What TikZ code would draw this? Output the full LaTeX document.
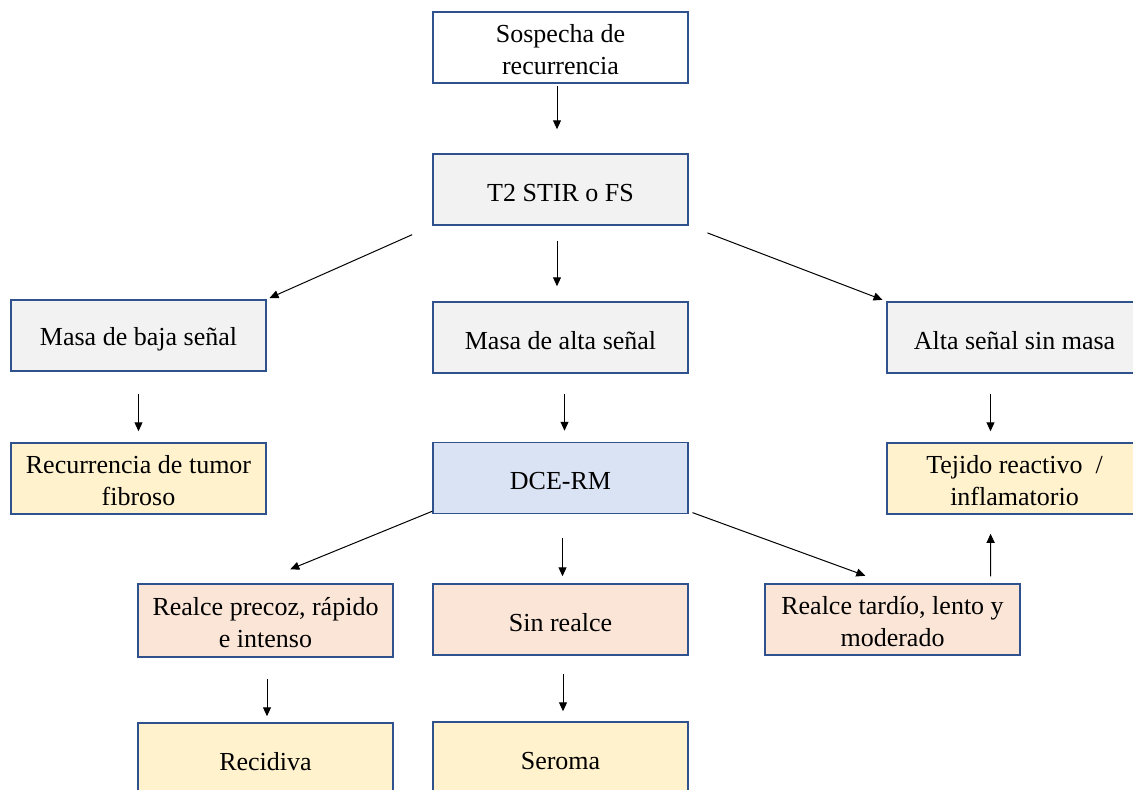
\documentclass[tikz,border=0pt]{standalone}
\usepackage{fontspec}
\setmainfont{Liberation Serif}
\usepackage{xcolor}
\usetikzlibrary{positioning,arrows.meta}

\definecolor{boxline}{HTML}{2F528F}
\definecolor{grayfill}{HTML}{F2F2F2}
\definecolor{bluefill}{HTML}{DAE3F3}
\definecolor{yellowfill}{HTML}{FFF2CC}
\definecolor{salmonfill}{HTML}{FBE5D6}
\newcommand{\boxstrut}{\rule[-1.4pt]{0pt}{14.4pt}}

\begin{document}
\begin{tikzpicture}[
  x=0.5pt, y=-0.5pt,
  box/.style={draw=boxline, line width=0.75pt, minimum width=127.5pt, minimum height=35.5pt,
              font=\fontsize{13}{16}\selectfont, align=center, inner sep=0pt},
  oneline/.style={execute at begin node=\boxstrut},
  twoline/.style={text height=28pt, text depth=0.9pt},
  arr/.style={-{Triangle[length=4.5pt,width=4pt]}, line width=0.5pt}
]
\useasboundingbox (0,0) rectangle (1133,789);
% first rows
\node[box, twoline, fill=white] (sosp) at (560.5,47.5) {Sospecha de\\recurrencia};
\node[box, oneline, fill=grayfill] (t2) at (560.5,189.5) {T2 STIR o FS};
\node[box, oneline, fill=grayfill] (baja) at (138.5,335.5) {Masa de baja señal};
\node[box, oneline, fill=grayfill] (alta) at (560.5,337.5) {Masa de alta señal};
\node[box, oneline, fill=grayfill] (sinmasa) at (1014.5,337.5) {Alta señal sin masa};
% second level
\node[box, twoline, fill=yellowfill] (fibroso) at (138.5,478.5) {Recurrencia de tumor\\fibroso};
\node[box, oneline, fill=bluefill] (dce) at (560.5,478) {DCE-RM};
\node[box, twoline, fill=yellowfill] (tejido) at (1014.5,478.5) {Tejido reactivo \ /\\inflamatorio};
% enhancement
\node[box, twoline, fill=salmonfill, minimum height=36.5pt] (precoz) at (265.5,620.5) {Realce precoz, rápido\\e intenso};
\node[box, oneline, fill=salmonfill] (sinreal) at (560.5,619.5) {Sin realce};
\node[box, twoline, fill=salmonfill] (tardio) at (892.5,619.5) {Realce tardío, lento y\\moderado};
\node[box, oneline, fill=yellowfill] (recidiva) at (265.5,758.5) {Recidiva};
\node[box, oneline, fill=yellowfill] (seroma) at (560.5,757.5) {Seroma};

\draw[arr, shorten <=1pt, shorten >=12pt] ([xshift=-1.75pt]sosp.south) -- ([xshift=-1.75pt]t2.north);
\draw[arr, shorten <=11pt, shorten >=1.5pt] (t2.south west) -- (baja.north east);
\draw[arr, shorten <=7.5pt, shorten >=7.5pt] ([xshift=-1.75pt]t2.south) -- ([xshift=-1.75pt]alta.north);
\draw[arr, shorten <=10pt, shorten >=2pt] (t2.south east) -- (sinmasa.north west);
\draw[arr, shorten <=11pt, shorten >=5.5pt] (baja) -- (fibroso);
\draw[arr, shorten <=10pt, shorten >=5.5pt] ([xshift=2pt]alta.south) -- ([xshift=2pt]dce.north);
\draw[arr, shorten <=10pt, shorten >=5.5pt] ([xshift=-12pt]sinmasa.south) -- ([xshift=-12pt]tejido.north);
\draw[arr, shorten >=18.5pt] ([yshift=1.5pt]dce.south west) -- ([xshift=-4.75pt]precoz.north);
\draw[arr, shorten <=12pt, shorten >=3.5pt] ([xshift=1pt]dce.south) -- ([xshift=1pt]sinreal.north);
\draw[arr, shorten <=2pt, shorten >=11pt] ([yshift=1.5pt]dce.south east) -- ([xshift=-3.25pt]tardio.north);
\draw[arr, shorten <=3.5pt, shorten >=9.5pt] ([xshift=-15pt]tardio.north east) -- ([xshift=-12pt]tejido.south);
\draw[arr, shorten <=10.5pt, shorten >=3pt] ([xshift=0.75pt]precoz.south) -- ([xshift=0.75pt]recidiva.north);
\draw[arr, shorten <=9pt, shorten >=5pt] ([xshift=1.25pt]sinreal.south) -- ([xshift=1.25pt]seroma.north);
\end{tikzpicture}
\end{document}
